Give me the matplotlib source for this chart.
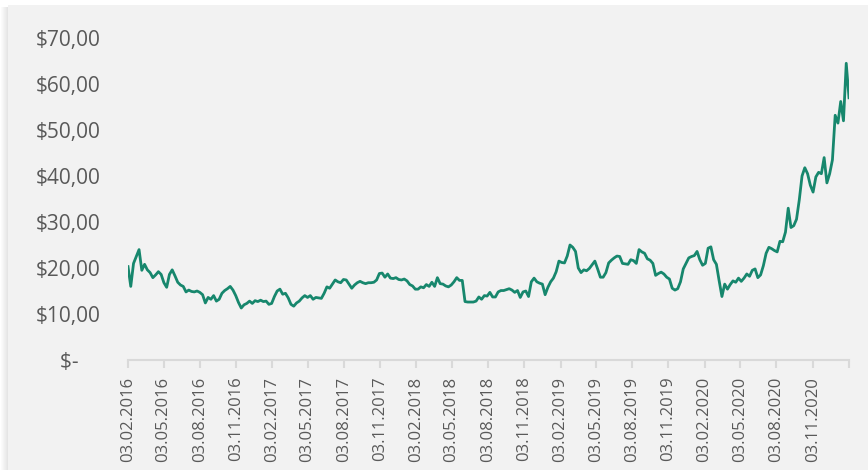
import matplotlib
matplotlib.use("Agg")
import matplotlib.pyplot as plt
from matplotlib.patches import Rectangle
import pandas as pd

# weekly closing price, 2016-02-03 .. 2021-02-03
price = [
    20.3, 16.0, 21.0, 22.5, 24.0, 19.5, 20.8, 19.6, 19.0, 17.9, 18.5, 19.2, 18.6, 16.8, 15.8, 18.6, 19.6,
    18.3, 16.9, 16.3, 16.0, 14.8, 15.2, 14.9, 14.8, 15.0, 14.7, 14.2, 12.4, 13.6, 13.2, 14.0, 12.8, 13.2,
    14.5, 15.1, 15.5, 16.0, 15.2, 14.0, 12.5, 11.3, 12.0, 12.3, 12.8, 12.3, 12.9, 12.7, 13.0, 12.7, 12.8,
    12.1, 12.3, 13.8, 15.0, 15.4, 14.3, 14.5, 13.5, 12.1, 11.7, 12.4, 12.8, 13.5, 14.0, 13.6, 14.0,
    13.2, 13.6, 13.5, 13.4, 14.5, 15.9, 15.6, 16.5, 17.4, 17.0, 16.8, 17.5, 17.4, 16.5, 15.6, 16.3,
    16.8, 17.1, 16.8, 16.6, 16.8, 16.8, 16.9, 17.4, 18.8, 18.9, 18.0, 18.7, 17.8, 17.7, 17.9, 17.5,
    17.4, 17.6, 17.2, 16.4, 16.1, 15.4, 15.4, 15.9, 15.7, 16.4, 16.0, 16.9, 16.0, 17.9, 16.6, 16.5,
    16.1, 15.9, 16.3, 17.0, 17.9, 17.3, 17.3, 12.7, 12.6, 12.6, 12.6, 12.8, 13.7, 13.2, 14.0, 13.9,
    14.7, 13.7, 13.7, 14.8, 15.1, 15.1, 15.3, 15.5, 15.2, 14.7, 15.1, 13.6, 14.8, 15.0, 13.8, 17.0,
    17.8, 17.0, 16.7, 16.5, 14.2, 15.8, 17.0, 17.8, 19.2, 21.5, 21.2, 21.1, 22.6, 25.0, 24.5, 23.6,
    20.0, 19.0, 19.6, 19.4, 19.9, 20.7, 21.5, 19.8, 18.0, 18.0, 19.0, 21.1, 21.7, 22.2, 22.6, 22.5,
    21.0, 20.9, 20.8, 21.8, 21.6, 21.0, 24.0, 23.5, 23.2, 22.0, 21.7, 21.0, 18.4, 18.8, 19.1, 18.7,
    18.0, 17.6, 15.6, 15.2, 15.5, 17.0, 19.8, 21.0, 22.2, 22.5, 22.7, 23.6, 21.8, 20.6, 21.0, 24.3,
    24.6, 21.8, 20.8, 17.2, 13.8, 16.5, 15.4, 16.4, 17.2, 16.9, 17.8, 17.1, 17.8, 18.7, 18.2, 19.5,
    19.8, 17.9, 18.5, 20.5, 23.2, 24.5, 24.2, 23.8, 23.5, 25.8, 25.7, 27.8, 33.0, 28.8, 29.2, 30.6,
    34.8, 40.0, 41.8, 40.5, 38.0, 36.5, 39.8, 40.8, 40.5, 44.0, 38.5, 40.5, 43.5, 53.2, 51.5, 56.2,
    52.0, 64.5, 57.0,
]
dates = pd.date_range("2016-02-03", periods=len(price), freq="7D")

tick_dates = pd.date_range("2016-02-03", "2021-02-03", freq=pd.DateOffset(months=3))
tick_labels = [d.strftime("%d.%m.%Y") for d in tick_dates[:-1]] + [""]

y_ticks = [0, 10, 20, 30, 40, 50, 60, 70]
y_labels = ["$-    ", "$10,00", "$20,00", "$30,00", "$40,00", "$50,00", "$60,00", "$70,00"]

plt.rcParams["font.family"] = ["Open Sans", "DejaVu Sans"]
W, H = 868, 470

fig = plt.figure(figsize=(W / 100, H / 100), dpi=100, facecolor="white")

# chart area background with soft shadow on the left
for i in range(7):
    fig.patches.append(Rectangle(((8 - i - 1) / W, 0), 1 / W, 463 / H, transform=fig.transFigure,
                                 facecolor="black", alpha=0.10 * (1 - i / 7), lw=0, zorder=-11))
fig.patches.append(Rectangle((8 / W, 0), 1, 465 / H, transform=fig.transFigure,
                             facecolor="#f2f2f2", lw=0, zorder=-10))

ax = fig.add_axes([128 / W, (H - 360) / H, (849 - 128) / W, 322 / H])
ax.set_facecolor("none")

ax.plot(dates, price, color="#17876d", lw=2.0, solid_joinstyle="round")

ax.set_xlim(tick_dates[0], tick_dates[-1])
ax.set_ylim(0, 70)

ax.set_xticks(tick_dates)
ax.set_xticklabels(tick_labels, rotation=90, fontsize=12, color="#595959")
ax.set_yticks(y_ticks)
ax.set_yticklabels(y_labels, fontsize=15, color="#595959")

ax.tick_params(axis="x", length=6, width=1.5, color="#d9d9d9", pad=6)
ax.tick_params(axis="y", length=0, pad=20)

for s in ["top", "right", "left"]:
    ax.spines[s].set_visible(False)
ax.spines["bottom"].set_color("#d9d9d9")
ax.spines["bottom"].set_linewidth(1.5)

fig.savefig("out.png", dpi=100, facecolor=fig.get_facecolor())
